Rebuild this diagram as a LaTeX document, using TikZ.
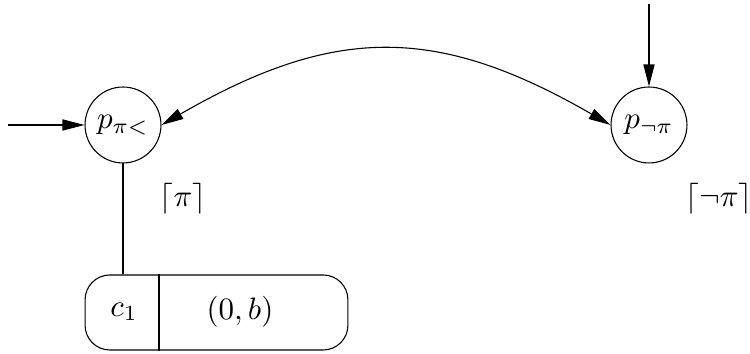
\documentclass[tikz,border=0pt]{standalone}
\usetikzlibrary{arrows.meta}
\begin{document}
\begin{tikzpicture}[x=0.3226pt,y=0.3226pt, line width=0.35pt,
  state/.style={circle,draw,minimum size=24.5pt,inner sep=0pt},
  arr/.style={-{Triangle[length=7.1pt,width=3.6pt]}},
  arrboth/.style={{Triangle[length=7.1pt,width=3.6pt]}-{Triangle[length=7.1pt,width=3.6pt]}},
  lbl/.style={inner sep=0pt}]
\useasboundingbox (0,0) rectangle (750,354);
\node[state] (A) at (123,229) {$p_{\pi<}$};
\node[state] (B) at (649,229) {$p_{\neg\pi}$};
\coordinate (inA) at (8,229);
\coordinate (inB) at (649,350);
\draw[arr] (inA) -- (A);
\draw[arr] (inB) -- (B);
\draw[arrboth] (A.east) .. controls +(30:200) and +(150:200) .. (B.west);
\node[lbl] (LA) at (183,155) {$\lceil\pi\rceil$};
\node[lbl] (LB) at (719,155) {$\lceil\neg\pi\rceil$};
\node[draw,rounded corners=8pt,minimum width=84.8pt,minimum height=24.2pt,inner sep=0pt] (box) at (216.5,41.5) {};
\coordinate (d) at (159,0);
\draw (box.north -| d) -- (box.south -| d);
\node[lbl] (c1) at (124,42) {$c_1$};
\node[lbl] (val) at (240,42) {$(0,b)$};
\draw (A.south) -- (A.south |- box.north);
\end{tikzpicture}
\end{document}
